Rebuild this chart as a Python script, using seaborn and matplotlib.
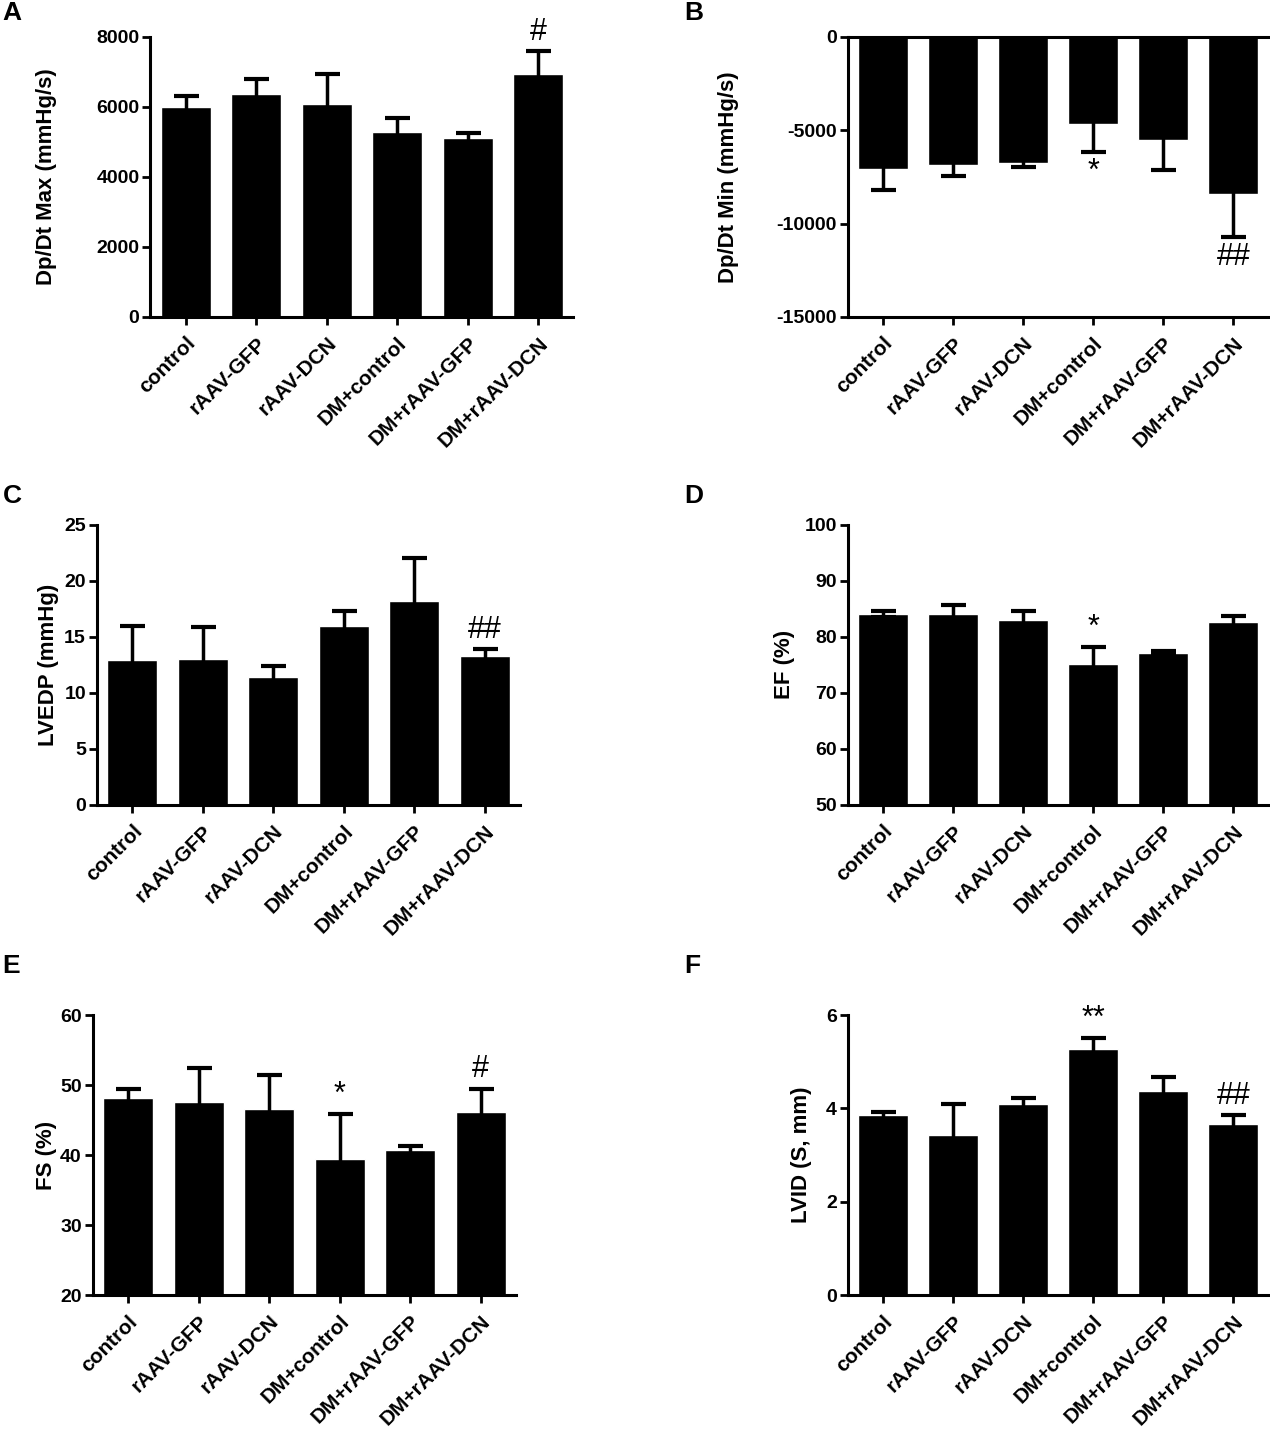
import numpy as np
import seaborn as sns
import matplotlib.pyplot as plt

sns.set_style("ticks")
plt.rcParams['font.family'] = ['Liberation Sans', 'DejaVu Sans']
plt.rcParams['font.weight'] = 'bold'
plt.rcParams['text.color'] = 'black'
plt.rcParams['axes.labelcolor'] = 'black'
plt.rcParams['xtick.color'] = 'black'
plt.rcParams['ytick.color'] = 'black'

groups = ['control', 'rAAV-GFP', 'rAAV-DCN', 'DM+control', 'DM+rAAV-GFP', 'DM+rAAV-DCN']

# средние значения и ошибки по каждой панели
dpdt_max = [6000, 6380, 6070, 5280, 5100, 6950]
dpdt_max_sem = [300, 420, 880, 400, 150, 650]
dpdt_min = [-7100, -6850, -6750, -4650, -5500, -8400]
dpdt_min_sem = [1100, 600, 200, 1500, 1650, 2300]
lvedp = [12.9, 13.0, 11.4, 16.0, 18.2, 13.3]
lvedp_sem = [3.05, 2.85, 1.0, 1.35, 3.8, 0.6]
ef = [84.1, 84.1, 83.1, 75.1, 77.1, 82.6]
ef_sem = [0.5, 1.6, 1.6, 3.1, 0.3, 1.2]
fs = [48.1, 47.6, 46.6, 39.4, 40.7, 46.2]
fs_sem = [1.3, 4.9, 4.9, 6.5, 0.6, 3.3]
lvid = [3.85, 3.42, 4.10, 5.27, 4.38, 3.66]
lvid_sem = [0.07, 0.68, 0.12, 0.23, 0.30, 0.19]

# метки значимости: {индекс группы: текст}
marks_a = {5: '#'}
marks_b = {3: '*', 5: '##'}
marks_c = {5: '##'}
marks_d = {3: '*'}
marks_e = {3: '*', 5: '#'}
marks_f = {3: '**', 5: '##'}

panels = [
    dict(letter='A', vals=dpdt_max, sem=dpdt_max_sem, marks=marks_a, ylim=(0, 8000),
         ticks=[0, 2000, 4000, 6000, 8000], ylabel='Dp/Dt Max (mmHg/s)',
         pos=[0.1185, 0.7785, 0.333, 0.1957], labx=-0.222),
    dict(letter='B', vals=dpdt_min, sem=dpdt_min_sem, marks=marks_b, ylim=(-15000, 0),
         ticks=[-15000, -10000, -5000, 0], ylabel='Dp/Dt Min (mmHg/s)',
         pos=[0.6677, 0.7785, 0.331, 0.1957], labx=-0.26),
    dict(letter='C', vals=lvedp, sem=lvedp_sem, marks=marks_c, ylim=(0, 25),
         ticks=[0, 5, 10, 15, 20, 25], ylabel='LVEDP (mmHg)',
         pos=[0.0764, 0.4375, 0.333, 0.1957], labx=-0.09),
    dict(letter='D', vals=ef, sem=ef_sem, marks=marks_d, ylim=(50, 100),
         ticks=[50, 60, 70, 80, 90, 100], ylabel='EF (%)',
         pos=[0.6677, 0.4375, 0.331, 0.1957], labx=-0.127),
    dict(letter='E', vals=fs, sem=fs_sem, marks=marks_e, ylim=(20, 60),
         ticks=[20, 30, 40, 50, 60], ylabel='FS (%)',
         pos=[0.0732, 0.095, 0.333, 0.1957], labx=-0.085),
    dict(letter='F', vals=lvid, sem=lvid_sem, marks=marks_f, ylim=(0, 6),
         ticks=[0, 2, 4, 6], ylabel='LVID (S, mm)',
         pos=[0.6677, 0.095, 0.331, 0.1957], labx=-0.086),
]

letter_pos = {'A': (0.002, 0.999), 'B': (0.539, 0.999), 'C': (0.002, 0.662),
              'D': (0.539, 0.662), 'E': (0.002, 0.333), 'F': (0.539, 0.333)}

fig = plt.figure(figsize=(12.7, 14.31), dpi=100)

for p in panels:
    ax = fig.add_axes(p['pos'])
    vals = np.array(p['vals'])
    sem = np.array(p['sem'])
    sns.barplot(x=groups, y=vals, color='black', width=0.71, saturation=1,
                errorbar=None, ax=ax)
    # планки погрешности: внутренняя половина прячется в чёрном столбце
    ax.errorbar(np.arange(len(groups)), vals, yerr=sem, fmt='none',
                ecolor='black', elinewidth=2.5, capsize=9, capthick=3, zorder=1)
    for i, txt in p['marks'].items():
        if vals[i] < 0:
            ax.annotate(txt, (i, vals[i] - sem[i]), xytext=(0, -4), textcoords='offset points',
                        ha='center', va='top', fontsize=22, fontweight='normal',
                        annotation_clip=False)
        else:
            ax.annotate(txt, (i, vals[i] + sem[i]), xytext=(0, 3), textcoords='offset points',
                        ha='center', va='bottom', fontsize=22, fontweight='normal',
                        annotation_clip=False)
    ax.set_xlim(-0.5, 5.5)
    ax.set_ylim(*p['ylim'])
    ax.set_yticks(p['ticks'])
    ax.set_yticklabels([str(t) for t in p['ticks']], fontsize=14, fontweight='bold')
    ax.set_xticks(range(len(groups)))
    ax.set_xticklabels(groups, rotation=45, ha='right', rotation_mode='anchor',
                       fontsize=15, fontweight='bold')
    ax.set_ylabel(p['ylabel'], fontsize=16, fontweight='bold')
    ax.yaxis.set_label_coords(p['labx'], 0.5)
    ax.set_xlabel('')
    sns.despine(ax=ax, top=(p['letter'] != 'B'))
    for s in ['left', 'bottom', 'top']:
        ax.spines[s].set_linewidth(2.2)
        ax.spines[s].set_color('black')
    ax.tick_params(axis='both', width=2, length=6, color='black', pad=2)
    ax.tick_params(axis='x', which='both', top=False, pad=6)
    lx, ly = letter_pos[p['letter']]
    fig.text(lx, ly, p['letter'], fontsize=19, fontweight='bold', ha='left', va='top')

fig.savefig('out.png', dpi=100)
